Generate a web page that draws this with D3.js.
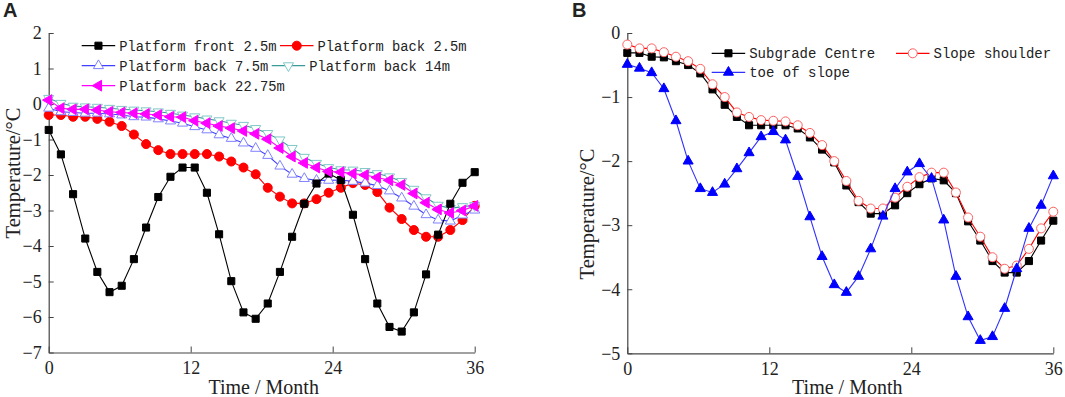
<!DOCTYPE html>
<html>
<head>
<meta charset="utf-8">
<script src="https://cdn.jsdelivr.net/npm/d3@7"></script>
<style>
  html, body { margin: 0; padding: 0; background: #fff; }
  svg { display: block; }
</style>
</head>
<body>
<div id="chart"></div>
<script>
// Time axis (months) shared by every series: 36 samples from 0 to 36
const time = [0, 1.03, 2.06, 3.09, 4.11, 5.14, 6.17, 7.2, 8.23, 9.26, 10.29, 11.31,
  12.34, 13.37, 14.4, 15.43, 16.46, 17.49, 18.51, 19.54, 20.57, 21.6, 22.63, 23.66,
  24.69, 25.71, 26.74, 27.77, 28.8, 29.83, 30.86, 31.89, 32.91, 33.94, 34.97, 36];

// Panel A series (temperature, degC)
const frontA25 = [-0.73, -1.42, -2.54, -3.79, -4.73, -5.30, -5.12, -4.37, -3.48, -2.62, -2.05, -1.79,
  -1.79, -2.50, -3.67, -4.99, -5.87, -6.05, -5.62, -4.73, -3.74, -2.81, -2.24, -1.96,
  -2.14, -3.12, -4.37, -5.62, -6.28, -6.41, -5.87, -4.80, -3.68, -2.81, -2.22, -1.92];
const back25 = [-0.31, -0.31, -0.36, -0.36, -0.42, -0.50, -0.62, -0.86, -1.13, -1.30, -1.41, -1.41,
  -1.41, -1.41, -1.48, -1.62, -1.79, -1.98, -2.36, -2.61, -2.80, -2.80, -2.68, -2.50,
  -2.36, -2.23, -2.28, -2.48, -2.92, -3.24, -3.55, -3.74, -3.74, -3.55, -3.27, -2.87];
const back75 = [-0.12, -0.22, -0.24, -0.26, -0.26, -0.28, -0.31, -0.36, -0.37, -0.42, -0.48, -0.54,
  -0.64, -0.73, -0.87, -0.97, -1.10, -1.25, -1.45, -1.75, -1.98, -2.10, -2.15, -2.15,
  -2.14, -2.18, -2.23, -2.30, -2.45, -2.65, -2.88, -3.12, -3.27, -3.30, -3.13, -2.99];
const back14 = [0.16, 0.02, -0.06, -0.08, -0.09, -0.12, -0.15, -0.17, -0.19, -0.22, -0.26, -0.31,
  -0.36, -0.42, -0.47, -0.54, -0.60, -0.69, -0.83, -1.01, -1.25, -1.50, -1.67, -1.79,
  -1.85, -1.86, -1.90, -1.96, -2.05, -2.18, -2.40, -2.64, -2.85, -2.94, -2.89, -2.86];
const back2275 = [0.11, -0.12, -0.15, -0.15, -0.17, -0.22, -0.24, -0.26, -0.28, -0.31, -0.36, -0.37,
  -0.47, -0.54, -0.62, -0.68, -0.76, -0.84, -0.99, -1.24, -1.48, -1.66, -1.79, -1.90,
  -1.92, -1.96, -2.00, -2.07, -2.15, -2.28, -2.52, -2.78, -2.97, -3.07, -3.00, -2.87];

// Panel B series
const subgradeCentre = [-0.31, -0.31, -0.37, -0.38, -0.44, -0.50, -0.63, -0.88, -1.12, -1.31, -1.44, -1.44,
  -1.44, -1.44, -1.49, -1.63, -1.82, -2.02, -2.38, -2.64, -2.82, -2.82, -2.69, -2.50,
  -2.36, -2.27, -2.30, -2.50, -2.94, -3.24, -3.56, -3.74, -3.74, -3.56, -3.24, -2.93];
const slopeShoulder = [-0.18, -0.24, -0.24, -0.30, -0.37, -0.44, -0.56, -0.80, -1.00, -1.24, -1.31, -1.36,
  -1.37, -1.38, -1.44, -1.56, -1.75, -2.00, -2.31, -2.62, -2.74, -2.74, -2.57, -2.40,
  -2.25, -2.18, -2.18, -2.49, -2.88, -3.18, -3.50, -3.68, -3.63, -3.37, -3.05, -2.79];
const toeOfSlope = [-0.49, -0.55, -0.62, -0.87, -1.37, -2.00, -2.43, -2.49, -2.36, -2.12, -1.87, -1.62,
  -1.54, -1.67, -2.24, -2.87, -3.49, -3.93, -4.05, -3.80, -3.37, -2.86, -2.43, -2.17,
  -2.04, -2.27, -2.92, -3.80, -4.43, -4.80, -4.74, -4.30, -3.68, -3.05, -2.69, -2.23];

// Tick values
const xTicks = [0, 12, 24, 36];
const yTicksA = [2, 1, 0, -1, -2, -3, -4, -5, -6, -7];
const yTicksB = [0, -1, -2, -3, -4, -5];

const width = 1065, height = 397;
const svg = d3.select('#chart').append('svg')
  .attr('width', width)
  .attr('height', height);

const SERIF = '"Liberation Serif", "Times New Roman", serif';
const MONO = '"Liberation Mono", "DejaVu Sans Mono", monospace';

// symbol helpers: type + rotation
const markers = {
  square: { type: d3.symbolSquare, size: 50, rotate: 0 },
  circle: { type: d3.symbolCircle, size: 64, rotate: 0 },
  up: { type: d3.symbolTriangle, size: 44, rotate: 0 },
  down: { type: d3.symbolTriangle, size: 44, rotate: 180 },
  left: { type: d3.symbolTriangle, size: 50, rotate: -90 }
};

function markerPath(name) {
  const m = markers[name];
  return d3.symbol().type(m.type).size(m.size)();
}

function drawPanel(p) {
  const x = d3.scaleLinear().domain([0, 36]).range([p.left, p.right]);
  const y = d3.scaleLinear().domain(p.yDomain).range([p.bottom, p.top]);
  const g = svg.append('g');
  const fmt = d3.format('d');

  // axes (ticks pointing inward)
  const xAxis = d3.axisBottom(x).tickValues(xTicks).tickFormat(fmt)
    .tickSizeInner(-6).tickSizeOuter(0).tickPadding(9);
  const yAxis = d3.axisLeft(y).tickValues(p.yTicks).tickFormat(fmt)
    .tickSizeInner(-5).tickSizeOuter(0).tickPadding(7);

  const gx = g.append('g').attr('transform', `translate(0,${p.bottom})`).call(xAxis);
  const gy = g.append('g').attr('transform', `translate(${p.left},0)`).call(yAxis);
  [gx, gy].forEach(a => {
    a.attr('font-family', null).attr('font-size', null);
    a.select('.domain').attr('stroke', '#444').attr('stroke-width', 1.2);
    a.selectAll('.tick line').attr('stroke', '#444').attr('stroke-width', 1);
    a.selectAll('text')
      .style('font-family', SERIF)
      .style('font-size', '18px')
      .attr('fill', '#222');
  });
  gx.selectAll('text').attr('dy', '0.71em');

  // titles
  g.append('text')
    .attr('x', (p.left + p.right) / 2 + p.xTitleShift)
    .attr('y', 394)
    .attr('text-anchor', 'middle')
    .style('font-family', SERIF)
    .style('font-size', '20px')
    .attr('fill', '#222')
    .text('Time / Month');

  g.append('text')
    .attr('transform', `translate(${p.yTitleX},${p.yTitleY}) rotate(-90)`)
    .attr('text-anchor', 'middle')
    .style('font-family', SERIF)
    .style('font-size', '20.5px')
    .attr('fill', '#222')
    .text('Temperature/°C');

  g.append('text')
    .attr('x', p.labelX)
    .attr('y', 17)
    .style('font-family', '"Liberation Sans", Arial, sans-serif')
    .style('font-weight', 'bold')
    .style('font-size', '20px')
    .attr('fill', '#222')
    .text(p.label);

  const line = d3.line().x((d, i) => x(time[i])).y(d => y(d));

  p.series.forEach(s => {
    const sg = g.append('g');
    sg.append('path')
      .datum(s.values)
      .attr('d', line)
      .attr('fill', 'none')
      .attr('stroke', s.line)
      .attr('stroke-width', 1.1);

    sg.selectAll('path.pt')
      .data(s.values)
      .join('path')
      .attr('class', 'pt')
      .attr('d', markerPath(s.marker))
      .attr('transform', (d, i) => `translate(${x(time[i])},${y(d)}) rotate(${markers[s.marker].rotate})`)
      .attr('fill', s.fill)
      .attr('stroke', s.stroke)
      .attr('stroke-width', 1);
  });

  // legend
  const lg = g.append('g');
  p.legend.forEach(item => {
    const s = p.series.find(d => d.name === item.name);
    lg.append('line')
      .attr('x1', item.x).attr('x2', item.x + p.legLine)
      .attr('y1', item.y).attr('y2', item.y)
      .attr('stroke', s.line).attr('stroke-width', 1.3);
    lg.append('path')
      .attr('d', markerPath(s.marker))
      .attr('transform', `translate(${item.x + p.legLine / 2},${item.y}) rotate(${markers[s.marker].rotate})`)
      .attr('fill', s.fill)
      .attr('stroke', s.stroke);
    lg.append('text')
      .attr('x', item.x + p.legLine + 4)
      .attr('y', item.y)
      .attr('dy', '0.36em')
      .style('font-family', MONO)
      .style('font-size', p.legFont + 'px')
      .attr('fill', '#222')
      .text(s.name);
  });
}

drawPanel({
  label: 'A', labelX: 3,
  left: 48.7, right: 474.7, top: 33, bottom: 352.5,
  yDomain: [-7, 2], yTicks: yTicksA,
  xTitleShift: 2, yTitleX: 19.5, yTitleY: 173,
  legLine: 33.5, legFont: 13.8,
  series: [
    { name: 'Platform back 2.5m', values: back25, marker: 'circle', line: '#ff0000', fill: '#ff0000', stroke: '#ff0000' },
    { name: 'Platform back 7.5m', values: back75, marker: 'up', line: '#4040ff', fill: '#ffffff', stroke: '#8080ff' },
    { name: 'Platform back 14m', values: back14, marker: 'down', line: '#3a9a9a', fill: '#ffffff', stroke: '#80c8c8' },
    { name: 'Platform front 2.5m', values: frontA25, marker: 'square', line: '#000000', fill: '#000000', stroke: '#000000' },
    { name: 'Platform back 22.75m', values: back2275, marker: 'left', line: '#ff00ff', fill: '#ff00ff', stroke: '#ff00ff' }
  ],
  legend: [
    { name: 'Platform front 2.5m', x: 81.7, y: 45.7 },
    { name: 'Platform back 2.5m', x: 280, y: 45.7 },
    { name: 'Platform back 7.5m', x: 81.7, y: 65.7 },
    { name: 'Platform back 14m', x: 271.7, y: 65.7 },
    { name: 'Platform back 22.75m', x: 81.7, y: 85.7 }
  ]
});

drawPanel({
  label: 'B', labelX: 572,
  left: 627.3, right: 1053.3, top: 33, bottom: 353.3,
  yDomain: [-5, 0], yTicks: yTicksB,
  xTitleShift: 7, yTitleX: 594, yTitleY: 214,
  legLine: 33.5, legFont: 14,
  series: [
    { name: 'Subgrade Centre', values: subgradeCentre, marker: 'square', line: '#000000', fill: '#000000', stroke: '#000000' },
    { name: 'Slope shoulder', values: slopeShoulder, marker: 'circle', line: '#ff0000', fill: '#ffffff', stroke: '#ff6060' },
    { name: 'toe of slope', values: toeOfSlope, marker: 'up', line: '#3030ff', fill: '#0000ff', stroke: '#0000ff' }
  ],
  legend: [
    { name: 'Subgrade Centre', x: 711.7, y: 53.3 },
    { name: 'Slope shoulder', x: 896, y: 53.3 },
    { name: 'toe of slope', x: 711.7, y: 72.3 }
  ]
});
</script>
</body>
</html>
